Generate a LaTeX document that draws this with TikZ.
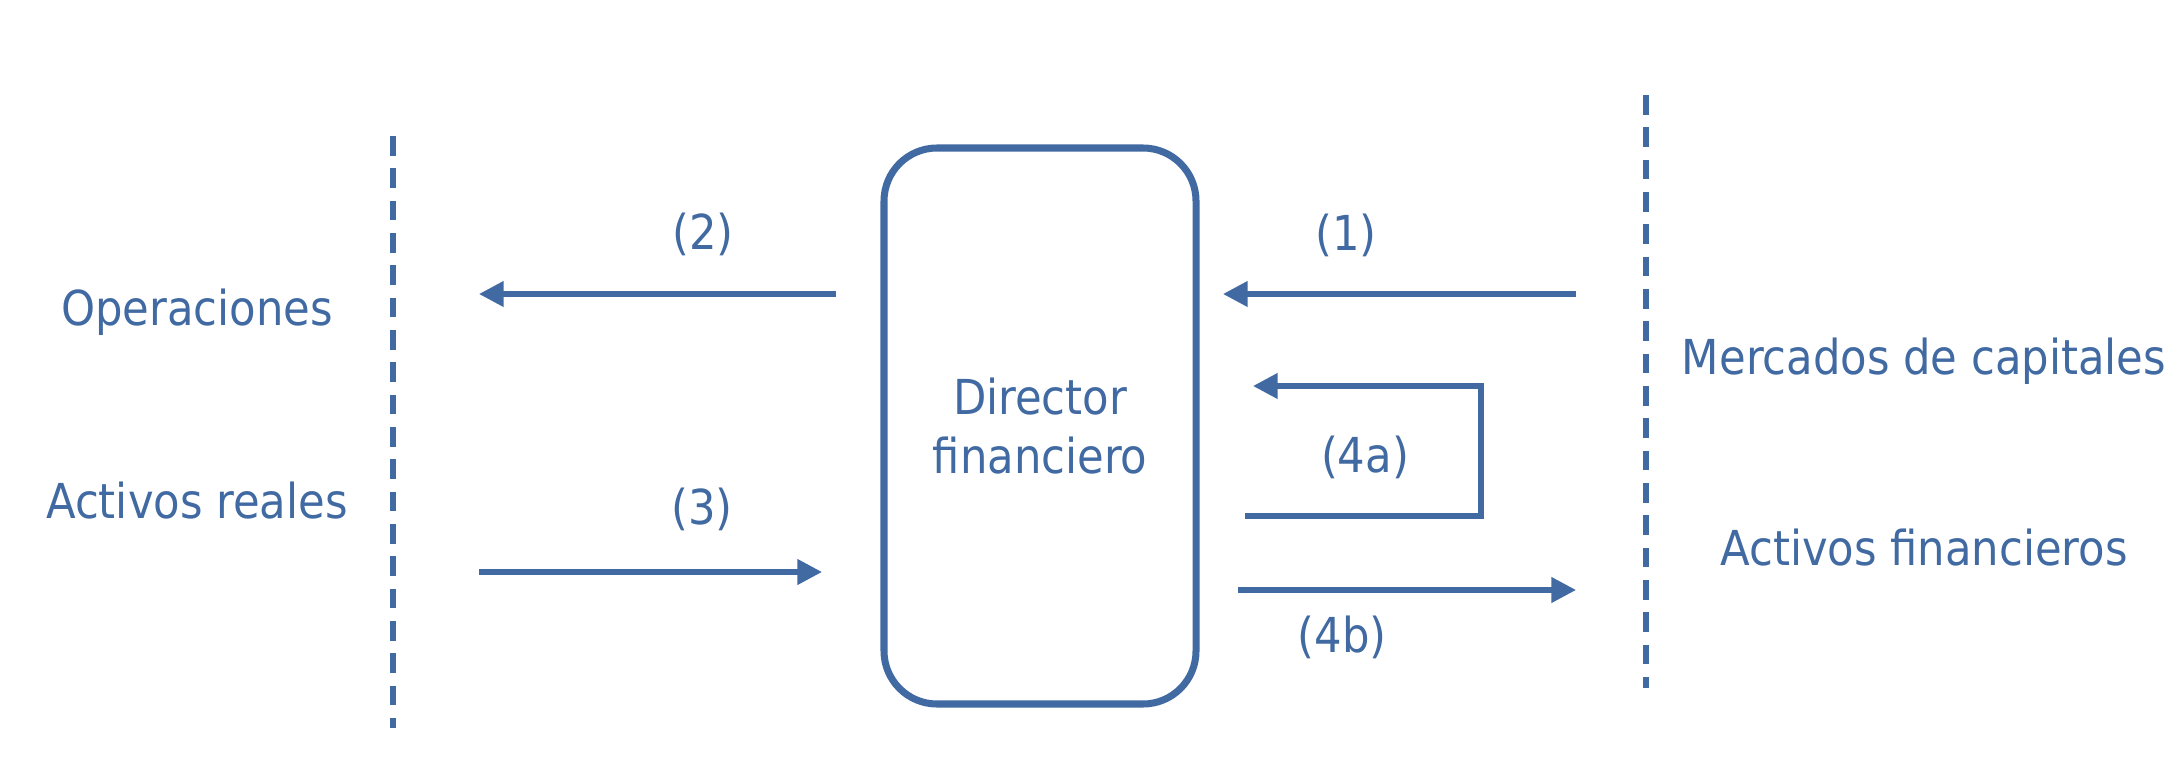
\documentclass[tikz,border=0pt]{standalone}
\usepackage{fontspec}
\setmainfont{DejaVu Sans Condensed}
\usetikzlibrary{calc, positioning, arrows.meta}
\definecolor{flowblue}{RGB}{65,106,162}

\begin{document}
\begin{tikzpicture}[>={Triangle[length=7pt, width=7pt]}, every node/.style={font=\fontsize{13.7}{16.6}\selectfont, text=flowblue}]
  \tikzset{flow/.style={draw=flowblue, line width=1.5pt, ->},
           divider/.style={draw=flowblue, line width=1.5pt, dash pattern=on 5.6pt off 3.6pt},
           director/.style={draw=flowblue, line width=2pt, rounded corners=0.53cm, minimum width=3.12cm, minimum height=5.56cm, align=center}}
  \useasboundingbox (0,0) rectangle (21.8,7.73);

  % dashed borders between the three areas
  \coordinate (ltop) at (3.93,6.37);
  \coordinate (lbot) at (3.93,0.45);
  \coordinate (rtop) at (16.46,6.78);
  \coordinate (rbot) at (16.46,0.85);
  \draw[divider] (ltop) -- (lbot);
  \draw[divider] (rtop) -- (rbot);

  \node[director] (cfo) at (10.40,3.47) {Director\\financiero};

  \node (ops) at (1.97,4.61) {Operaciones};
  \node (real) at (1.97,2.72) {Activos reales};
  \node (mkt) at (19.24,4.12) {Mercados de capitales};
  \node (fin) at (19.24,2.25) {Activos financieros};

  % arrow ends
  \coordinate (a2s) at (8.36,4.79);
  \coordinate (a2e) at (4.79,4.79);
  \coordinate (a3s) at (4.79,2.01);
  \coordinate (a3e) at (8.22,2.01);
  \coordinate (a1s) at (15.76,4.79);
  \coordinate (a1e) at (12.23,4.79);
  \coordinate (a4s) at (12.45,2.57);
  \coordinate (a4c) at (14.81,2.57);
  \coordinate (a4d) at (14.81,3.87);
  \coordinate (a4e) at (12.53,3.87);
  \coordinate (a5s) at (12.38,1.83);
  \coordinate (a5e) at (15.76,1.83);

  \draw[flow] (a1s) -- (a1e);
  \draw[flow] (a2s) -- (a2e);
  \draw[flow] (a3s) -- (a3e);
  \draw[flow, line join=miter] (a4s) -- (a4c) -- (a4d) -- (a4e);
  \draw[flow] (a5s) -- (a5e);

  \node (l1) at (13.46,5.38) {(1)};
  \node (l2) at (7.03,5.39) {(2)};
  \node (l3) at (7.02,2.64) {(3)};
  \node (l4a) at (13.65,3.16) {(4a)};
  \node (l4b) at (13.42,1.36) {(4b)};
\end{tikzpicture}
\end{document}
